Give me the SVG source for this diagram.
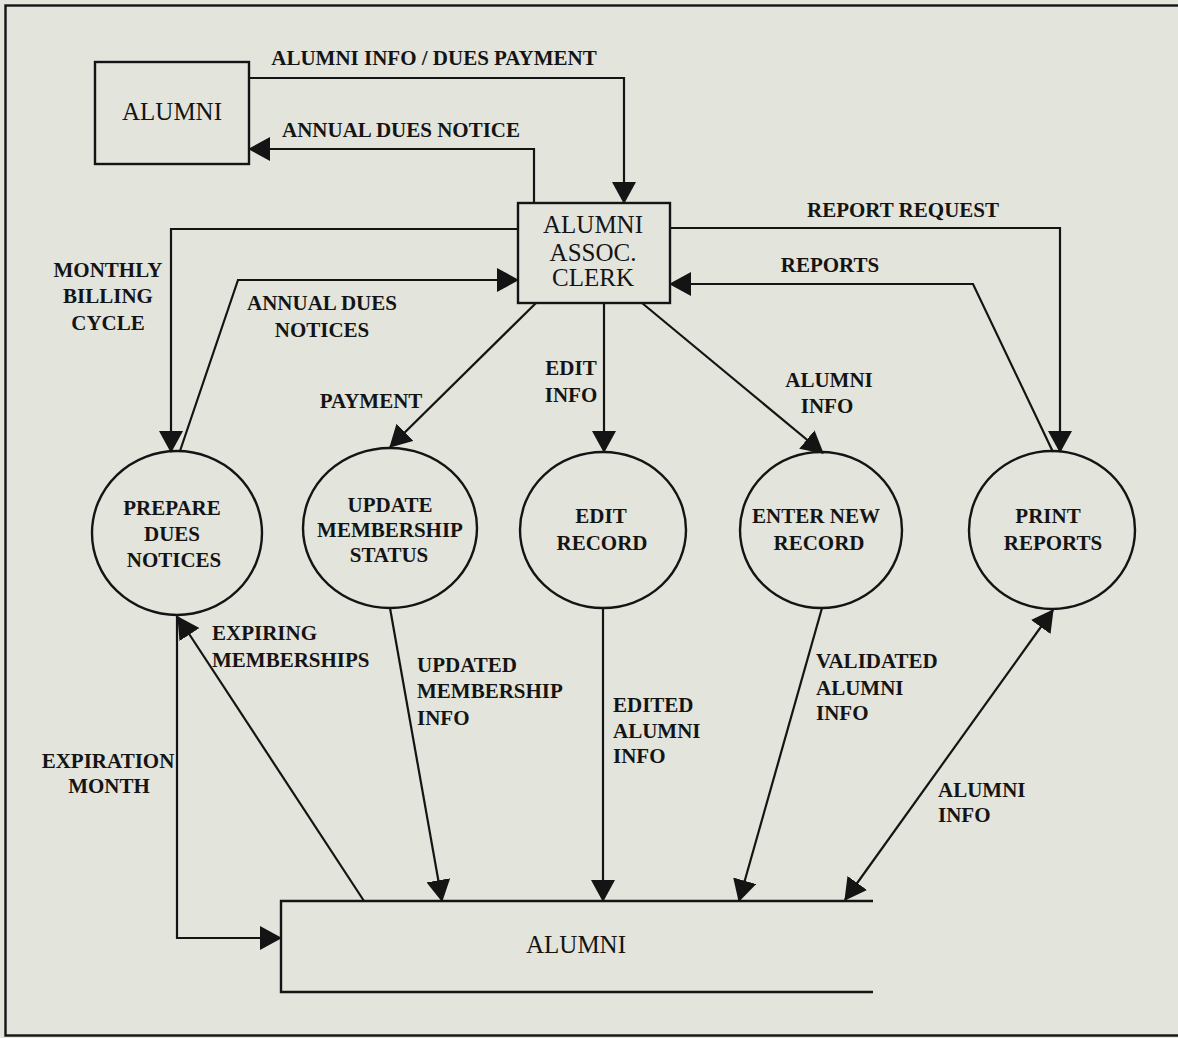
<svg xmlns="http://www.w3.org/2000/svg" width="1178" height="1038" viewBox="0 0 1178 1038">
<style>
.bg{fill:#e3e4dc}
.box{fill:none;stroke:#141414;stroke-width:2.4}
.ln{fill:none;stroke:#141414;stroke-width:2.2}
.ar{fill:none;stroke:#141414;stroke-width:2.2;marker-end:url(#ah)}
.bi{fill:none;stroke:#141414;stroke-width:2.2;marker-end:url(#ah);marker-start:url(#ah)}
.lbl{font-family:"Liberation Serif","Times New Roman",serif;font-weight:bold;font-size:21px;fill:#141414}
.nm{font-family:"Liberation Serif","Times New Roman",serif;font-size:25px;fill:#141414}
.c{text-anchor:middle}
</style>
<defs>
<marker id="ah" viewBox="0 0 22 24" refX="21" refY="12" markerWidth="22" markerHeight="24" markerUnits="userSpaceOnUse" orient="auto-start-reverse">
<path d="M0,0 L22,12 L0,24 z" fill="#141414"/>
</marker>
</defs>
<rect class="bg" x="0" y="0" width="1178" height="1038"/>
<rect class="box" x="5.5" y="5.5" width="1200" height="1030"/>

<g id="alumni-ext">
<rect class="box" x="95" y="62" width="154" height="102"/>
<text class="nm c" x="172" y="120">ALUMNI</text>
</g>
<g id="clerk">
<rect class="box" x="518" y="203" width="152" height="100"/>
<text class="nm c" x="593" y="233">ALUMNI</text>
<text class="nm c" x="593" y="261">ASSOC.</text>
<text class="nm c" x="593" y="286">CLERK</text>
</g>
<g id="prepare">
<ellipse class="box" cx="177" cy="533" rx="85" ry="82"/>
<text class="lbl c" x="172" y="515">PREPARE</text>
<text class="lbl c" x="172" y="541">DUES</text>
<text class="lbl c" x="174" y="567">NOTICES</text>
</g>
<g id="update">
<ellipse class="box" cx="390" cy="528" rx="87" ry="80"/>
<text class="lbl c" x="390" y="512">UPDATE</text>
<text class="lbl c" x="390" y="537">MEMBERSHIP</text>
<text class="lbl c" x="389" y="562">STATUS</text>
</g>
<g id="edit">
<ellipse class="box" cx="603" cy="530" rx="83" ry="78"/>
<text class="lbl c" x="601" y="523">EDIT</text>
<text class="lbl c" x="602" y="550">RECORD</text>
</g>
<g id="enter">
<ellipse class="box" cx="821" cy="530" rx="81" ry="78"/>
<text class="lbl c" x="816" y="523">ENTER NEW</text>
<text class="lbl c" x="819" y="550">RECORD</text>
</g>
<g id="print">
<ellipse class="box" cx="1052" cy="530" rx="83" ry="79"/>
<text class="lbl c" x="1048" y="523">PRINT</text>
<text class="lbl c" x="1053" y="550">REPORTS</text>
</g>
<g id="alumni-store">
<path class="box" d="M873,901 H281 V992 H873"/>
<text class="nm c" x="576" y="953">ALUMNI</text>
</g>

<g id="connectors">
<path class="ar" d="M249,78 H624 V203"/>
<path class="ar" d="M534,203 V149 H249"/>
<path class="ar" d="M518,229 H171 V452"/>
<path class="ar" d="M180,451 L238,280 H518"/>
<path class="ar" d="M536,303 L390,447"/>
<path class="ar" d="M604,303 V452"/>
<path class="ar" d="M642,303 L823,453"/>
<path class="ar" d="M670,228 H1060 V452"/>
<path class="ar" d="M1053,452 L973,284 H670"/>
<path class="ar" d="M364,901 L178,617"/>
<path class="ar" d="M177,616 V938 H281"/>
<path class="ar" d="M390,608 L442,901"/>
<path class="ar" d="M603,608 V901"/>
<path class="ar" d="M822,608 L739,901"/>
<path class="bi" d="M845,900 L1053,610"/>
</g>

<g id="labels">
<text class="lbl c" x="434" y="65">ALUMNI INFO / DUES PAYMENT</text>
<text class="lbl c" x="401" y="137">ANNUAL DUES NOTICE</text>
<text class="lbl c" x="903" y="217">REPORT REQUEST</text>
<text class="lbl c" x="830" y="272">REPORTS</text>
<text class="lbl c" x="108" y="277">MONTHLY</text>
<text class="lbl c" x="108" y="303">BILLING</text>
<text class="lbl c" x="108" y="330">CYCLE</text>
<text class="lbl c" x="322" y="310">ANNUAL DUES</text>
<text class="lbl c" x="322" y="337">NOTICES</text>
<text class="lbl c" x="371" y="408">PAYMENT</text>
<text class="lbl c" x="571" y="375">EDIT</text>
<text class="lbl c" x="571" y="402">INFO</text>
<text class="lbl c" x="829" y="387">ALUMNI</text>
<text class="lbl c" x="827" y="413">INFO</text>
<text class="lbl" x="212" y="640">EXPIRING</text>
<text class="lbl" x="212" y="667">MEMBERSHIPS</text>
<text class="lbl" x="417" y="672">UPDATED</text>
<text class="lbl" x="417" y="698">MEMBERSHIP</text>
<text class="lbl" x="417" y="725">INFO</text>
<text class="lbl c" x="108" y="768">EXPIRATION</text>
<text class="lbl c" x="109" y="793">MONTH</text>
<text class="lbl" x="613" y="712">EDITED</text>
<text class="lbl" x="613" y="738">ALUMNI</text>
<text class="lbl" x="613" y="763">INFO</text>
<text class="lbl" x="816" y="668">VALIDATED</text>
<text class="lbl" x="816" y="695">ALUMNI</text>
<text class="lbl" x="816" y="720">INFO</text>
<text class="lbl" x="938" y="797">ALUMNI</text>
<text class="lbl" x="938" y="822">INFO</text>
</g>
</svg>
